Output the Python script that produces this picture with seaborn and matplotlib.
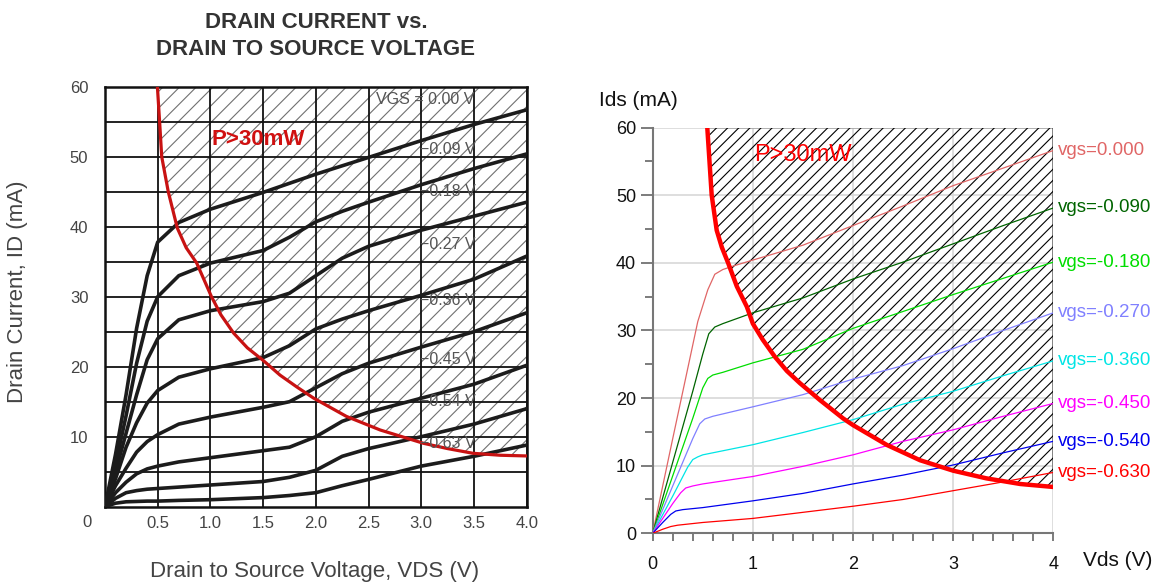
# %%
import numpy as np
import pandas as pd
import seaborn as sns
import matplotlib.pyplot as plt

# %% datasheet curves (left panel)
vgs_left = ['0.00', '-0.09', '-0.18', '-0.27', '-0.36', '-0.45', '-0.54', '-0.63']
vds_left = [0, 0.1, 0.2, 0.3, 0.4, 0.5, 0.7, 1.0, 1.5, 1.75, 2.0, 2.25, 2.5, 3.0, 3.5, 4.0]
ids_l_000 = [0, 7.5, 16, 25.5, 33, 37.8, 40.6, 42.5, 44.9, 46.2, 47.5, 48.7, 49.9, 52.3, 54.6, 56.7]
ids_l_009 = [0, 6, 13, 20.5, 26.5, 30, 33, 34.8, 36.6, 38.5, 40.7, 42.2, 43.5, 46, 48.3, 50.4]
ids_l_018 = [0, 5, 10.5, 16, 21, 24, 26.7, 28, 29.3, 30.5, 33, 35.5, 37.2, 39.5, 41.5, 43.5]
ids_l_027 = [0, 4, 8.5, 12, 14.8, 16.6, 18.5, 19.7, 21.3, 23, 25.4, 26.8, 28, 30.2, 32.5, 35.8]
ids_l_036 = [0, 3, 5.5, 7.8, 9.3, 10.3, 11.8, 12.8, 14.2, 15, 17, 19, 20.5, 22.8, 25, 27.7]
ids_l_045 = [0, 2, 3.5, 4.7, 5.4, 5.8, 6.4, 7, 8, 8.5, 10, 12.2, 13.5, 15.5, 17.5, 20.2]
ids_l_054 = [0, 1.2, 2, 2.3, 2.5, 2.6, 2.8, 3.1, 3.6, 4.2, 5.2, 7.2, 8.3, 10, 11.8, 14]
ids_l_063 = [0, 0.5, 0.7, 0.75, 0.8, 0.8, 0.9, 1.0, 1.3, 1.6, 2.0, 3.0, 3.9, 5.8, 7.2, 8.8]
label_y_left = [58.1, 51, 45, 37.4, 29.5, 21, 15, 9.1]

# power limit curve P>30mW (left)
plim_vds_left = [0.497, 0.52, 0.538, 0.6, 0.686, 0.77, 0.87, 1.01, 1.1, 1.22, 1.35, 1.5,
                 1.66, 1.82, 1.98, 2.29, 2.61, 3.02, 3.25, 3.49, 3.75, 4.0]
plim_ids_left = [60, 54.5, 50, 45, 39.8, 37, 34.8, 30, 27.4, 24.8, 22.7, 20.9,
                 18.8, 17.1, 15.5, 12.9, 10.96, 9.06, 8.3, 7.63, 7.35, 7.25]

# %% simulated curves (right panel)
vgs_right = ['0.000', '-0.090', '-0.180', '-0.270', '-0.360', '-0.450', '-0.540', '-0.630']
colors_right = ['#e06666', '#006400', '#00dd00', '#8080ff', '#00e5e5', '#ff00ff', '#0000ee', '#ff0000']
vds_r_000 = [0, 0.2, 0.45, 0.55, 0.62, 0.7, 0.8, 1.0, 1.5, 2.0, 2.5, 3.0, 3.5, 4.0]
ids_r_000 = [0, 14, 31.3, 36, 38.3, 39.0, 39.5, 40.4, 42.6, 45.5, 48.4, 51.4, 54.0, 56.6]
vds_r_090 = [0, 0.2, 0.4, 0.5, 0.56, 0.62, 0.7, 1.0, 1.5, 2.0, 2.5, 3.0, 3.5, 4.0]
ids_r_090 = [0, 10.5, 21, 26.5, 29.5, 30.5, 31.0, 32.6, 34.8, 37.6, 40.1, 42.8, 45.5, 48.1]
vds_r_180 = [0, 0.2, 0.4, 0.5, 0.55, 0.6, 0.7, 1.0, 1.5, 2.0, 2.5, 3.0, 3.5, 4.0]
ids_r_180 = [0, 8.5, 17, 21.5, 22.9, 23.4, 23.8, 25.2, 27.2, 30.3, 32.8, 35.3, 37.7, 40.1]
vds_r_270 = [0, 0.2, 0.4, 0.47, 0.52, 0.6, 1.0, 1.5, 2.0, 2.5, 3.0, 3.5, 4.0]
ids_r_270 = [0, 7, 14, 16.2, 16.9, 17.3, 18.7, 20.5, 22.8, 24.8, 27.3, 30, 32.6]
vds_r_360 = [0, 0.2, 0.35, 0.4, 0.45, 0.5, 1.0, 1.5, 2.0, 2.5, 3.0, 3.5, 4.0]
ids_r_360 = [0, 5.5, 9.8, 10.9, 11.3, 11.6, 13.1, 14.9, 16.8, 19.1, 21, 23.3, 25.5]
vds_r_450 = [0, 0.1, 0.2, 0.28, 0.33, 0.4, 0.5, 1.0, 1.5, 2.0, 2.5, 3.0, 3.5, 4.0]
ids_r_450 = [0, 2.2, 4.4, 6.0, 6.7, 7.0, 7.3, 8.4, 9.9, 11.6, 13.6, 15.3, 17.3, 19.2]
vds_r_540 = [0, 0.1, 0.18, 0.23, 0.3, 0.5, 1.0, 1.5, 2.0, 2.5, 3.0, 3.5, 4.0]
ids_r_540 = [0, 1.6, 2.8, 3.3, 3.5, 3.8, 4.8, 5.9, 7.3, 8.6, 10.1, 11.9, 13.6]
vds_r_630 = [0, 0.1, 0.18, 0.25, 0.5, 1.0, 1.5, 2.0, 2.5, 3.0, 3.5, 4.0]
ids_r_630 = [0, 0.6, 1.0, 1.2, 1.6, 2.2, 3.1, 4.0, 5.0, 6.3, 7.6, 9.0]

# power limit curve (right)
plim_vds_right = [0.545, 0.56, 0.589, 0.639, 0.69, 0.755, 0.84, 0.94, 1.0, 1.1, 1.22, 1.34,
                  1.47, 1.67, 1.9, 2.0, 2.34, 2.67, 3.0, 3.33, 3.67, 4.0]
plim_ids_right = [60, 56.6, 50, 44.8, 42.3, 39.9, 36.5, 33.5, 31.0, 28.6, 26.1, 24.0,
                  22.2, 19.7, 17.0, 16.0, 13.05, 10.8, 9.26, 8.13, 7.29, 6.85]

# %% tables for seaborn
left_series = [ids_l_000, ids_l_009, ids_l_018, ids_l_027, ids_l_036, ids_l_045, ids_l_054, ids_l_063]
df_left = pd.concat([pd.DataFrame({'vds': vds_left, 'ids': s, 'vgs': v})
                     for v, s in zip(vgs_left, left_series)], ignore_index=True)

right_x = [vds_r_000, vds_r_090, vds_r_180, vds_r_270, vds_r_360, vds_r_450, vds_r_540, vds_r_630]
right_y = [ids_r_000, ids_r_090, ids_r_180, ids_r_270, ids_r_360, ids_r_450, ids_r_540, ids_r_630]
df_right = pd.concat([pd.DataFrame({'vds': x, 'ids': y, 'vgs': v})
                      for v, x, y in zip(vgs_right, right_x, right_y)], ignore_index=True)

# %%
sns.set_theme(style='white')
plt.rcParams['font.family'] = ['Liberation Sans', 'DejaVu Sans']
plt.rcParams['hatch.linewidth'] = 0.8

W, H = 1163, 586
fig = plt.figure(figsize=(W / 100, H / 100), dpi=100)
axl = fig.add_axes([105 / W, 1 - 506.7 / H, 421.7 / W, 420 / H])
axr = fig.add_axes([652.7 / W, 1 - 533.3 / H, 400.6 / W, 405.8 / H])

# ---- left: datasheet style
axl.fill_between(plim_vds_left, plim_ids_left, 60, facecolor='none', edgecolor='#707070',
                 hatch='//', linewidth=0, zorder=1)
sns.lineplot(data=df_left, x='vds', y='ids', units='vgs', estimator=None, sort=False,
             color='#1c1c1c', linewidth=2.6, ax=axl, zorder=3)
axl.plot(plim_vds_left, plim_ids_left, color='#c81212', lw=2.3, zorder=4)

axl.set_xlim(0, 4)
axl.set_ylim(0, 60)
axl.set_xticks([0.5, 1.0, 1.5, 2.0, 2.5, 3.0, 3.5, 4.0])
axl.set_xticklabels(['0.5', '1.0', '1.5', '2.0', '2.5', '3.0', '3.5', '4.0'])
axl.set_yticks([10, 20, 30, 40, 50, 60])
axl.set_yticks([5, 15, 25, 35, 45, 55], minor=True)
axl.grid(True, which='both', color='#111111', linewidth=1.3)
axl.set_axisbelow(False)
axl.tick_params(axis='both', which='both', length=0, labelsize=12, labelcolor='#444444')
axl.tick_params(axis='x', pad=7)
axl.tick_params(axis='y', pad=12)
axl.set_xlabel('')
axl.set_ylabel('')
for sp in axl.spines.values():
    sp.set_color('#111111')
    sp.set_linewidth(1.8)
axl.text(-0.17, -2.3, '0', ha='center', va='center', fontsize=12, color='#444444', clip_on=False)

for v, ly in zip(vgs_left, label_y_left):
    txt = 'VGS = 0.00 V' if v == '0.00' else '\u2212' + v[1:] + ' V'
    axl.text(3.25 if v != '0.00' else 3.04, ly, txt, ha='center', va='center',
             fontsize=11.5, color='#555555', zorder=5)
axl.text(1.45, 52.4, 'P>30mW', color='#d01010', fontsize=16, fontweight='bold',
         ha='center', va='center', zorder=5)

fig.text(316 / W, 1 - 36 / H, 'DRAIN CURRENT vs.\nDRAIN TO SOURCE VOLTAGE', ha='center',
         va='center', fontsize=16, fontweight='bold', color='#333333', linespacing=1.35)
fig.text(315 / W, 1 - 572 / H, 'Drain to Source Voltage, VDS (V)', ha='center', va='center',
         fontsize=16, color='#444444')
fig.text(18 / W, 1 - 292 / H, 'Drain Current, ID (mA)', ha='center', va='center',
         rotation=90, fontsize=16, color='#444444')

# ---- right: simulation
axr.fill_between(plim_vds_right, plim_ids_right, 60, facecolor='none', edgecolor='black',
                 hatch='///', linewidth=1.0, zorder=1)
sns.lineplot(data=df_right, x='vds', y='ids', hue='vgs', hue_order=vgs_right,
             palette=dict(zip(vgs_right, colors_right)), estimator=None, sort=False,
             linewidth=0.9, legend=False, ax=axr, zorder=3)
axr.plot(plim_vds_right, plim_ids_right, color='#ff0000', lw=3.2, zorder=4,
         solid_capstyle='butt', solid_joinstyle='round')

for v, c, y in zip(vgs_right, colors_right, right_y):
    axr.text(4.05, y[-1], 'vgs=' + v, color=c, fontsize=13.5, ha='left', va='center',
             clip_on=False)
axr.text(1.5, 55.9, 'P>30mW', color='#ff0000', fontsize=17, ha='center', va='center', zorder=5)

axr.set_xlim(0, 4)
axr.set_ylim(0, 60)
axr.set_xticks([0, 1, 2, 3, 4])
axr.set_xticks([0.2, 0.4, 0.6, 0.8, 1.2, 1.4, 1.6, 1.8, 2.2, 2.4, 2.6, 2.8,
                3.2, 3.4, 3.6, 3.8], minor=True)
axr.set_yticks([0, 10, 20, 30, 40, 50, 60])
axr.set_yticks([5, 15, 25, 35, 45, 55], minor=True)
axr.grid(True, which='major', color='#d8d8d8', linewidth=1.2)
axr.set_axisbelow(True)
axr.tick_params(axis='both', which='both', direction='out', color='#666666', width=1.2,
                labelsize=13, labelcolor='#111111', bottom=True, left=True)
axr.tick_params(axis='x', which='both', length=6, pad=10)
axr.tick_params(axis='y', which='major', length=9, pad=3)
axr.tick_params(axis='y', which='minor', length=6)
axr.set_xlabel('')
axr.set_ylabel('')
axr.spines['top'].set_visible(False)
axr.spines['right'].set_visible(False)
for s in ['left', 'bottom']:
    axr.spines[s].set_color('#777777')
    axr.spines[s].set_linewidth(1.5)

fig.text(638 / W, 1 - 100 / H, 'Ids (mA)', ha='center', va='center', fontsize=15, color='#111111')
fig.text(1118 / W, 1 - 560 / H, 'Vds (V)', ha='center', va='center', fontsize=15, color='#111111')

fig.savefig('out.png', dpi=100)
